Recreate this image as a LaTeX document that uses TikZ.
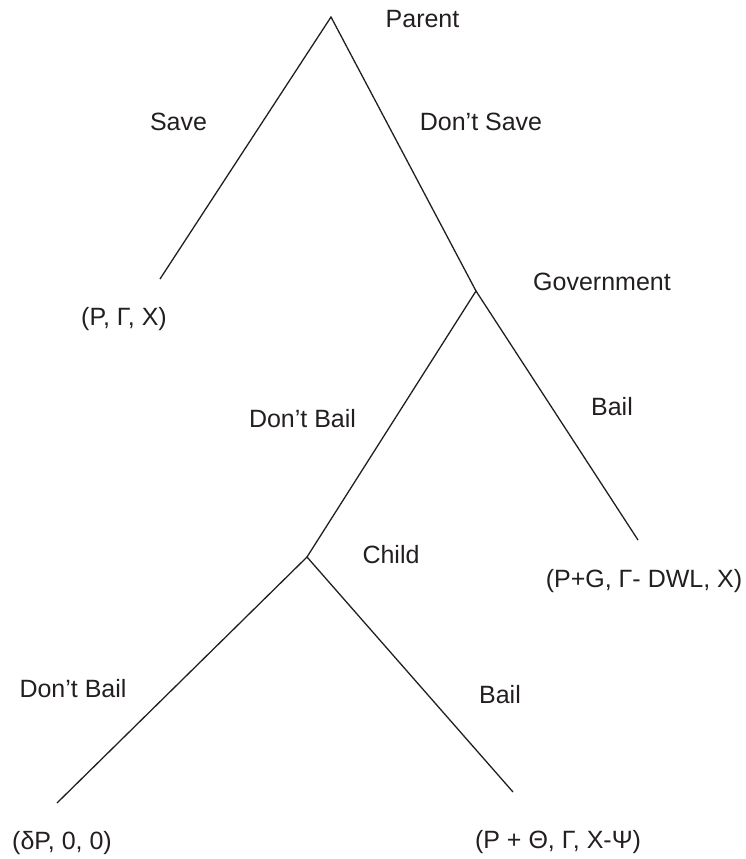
\documentclass[tikz,border=0pt]{standalone}
\usepackage{fontspec}
\setmainfont{Liberation Sans}
\definecolor{ink}{HTML}{231F20}
\tikzset{
  branch/.style={draw=ink, line width=1.3pt},
  lbl/.style={anchor=base, inner sep=0pt, text=ink, font=\fontsize{25}{30}\selectfont}
}
\begin{document}
\begin{tikzpicture}[x=1pt,y=-1pt]
\useasboundingbox (0,0) rectangle (745,859);
% decision points and end points
\coordinate (parent) at (331,17);
\coordinate (saveend) at (160,279);
\coordinate (gov) at (476,291);
\coordinate (govbail) at (638,540);
\coordinate (child) at (307,557);
\coordinate (childnobail) at (57,803);
\coordinate (childbail) at (513,792);
% branches
\draw[branch] (saveend) -- (parent) -- (gov);
\draw[branch] (child) -- (gov) -- (govbail);
\draw[branch] (childnobail) -- (child) -- (childbail);
% labels
\node[lbl] (lparent) at (422.5,27.5) {Parent};
\node[lbl] (lsave) at (178.5,130) {Save};
\node[lbl] (ldontsave) at (481,130) {Don’t Save};
\node[lbl] (lpay1) at (124,325) {(P, Γ, X)};
\node[lbl] (lgov) at (602,290) {Government};
\node[lbl] (lgovnobail) at (302.5,427) {Don’t Bail};
\node[lbl] (lgovbail) at (612,415) {Bail};
\node[lbl] (lpay2) at (644,587) {(P+G, Γ- DWL, X)};
\node[lbl] (lchild) at (391,563) {Child};
\node[lbl] (lchildnobail) at (73,697) {Don’t Bail};
\node[lbl] (lchildbail) at (500,703) {Bail};
\node[lbl] (lpay3) at (62,849) {(δP, 0, 0)};
\node[lbl] (lpay4) at (558,848) {(P + Θ, Γ, X-Ψ)};
\end{tikzpicture}
\end{document}
